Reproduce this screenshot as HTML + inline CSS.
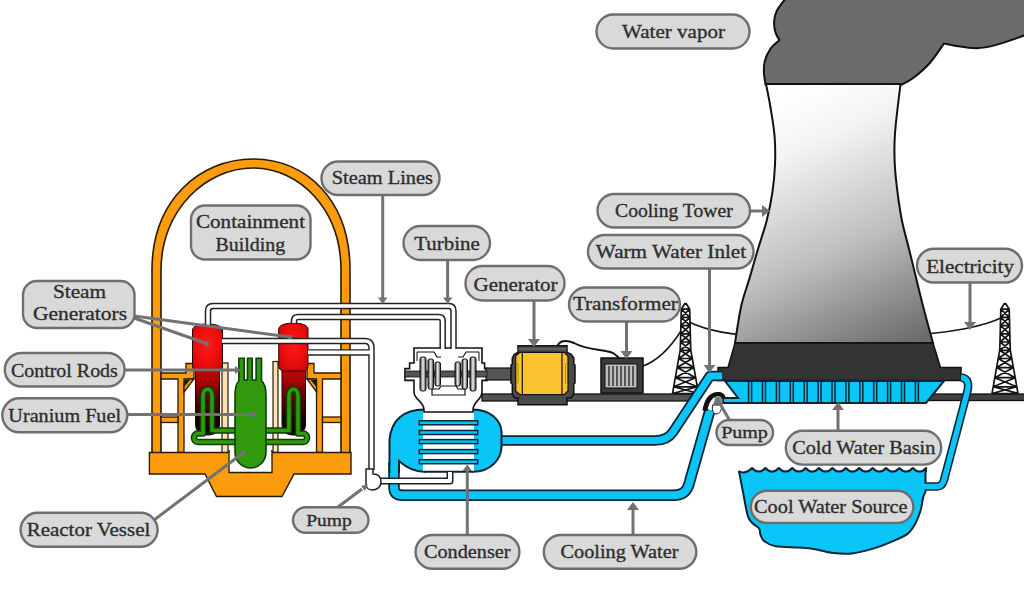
<!DOCTYPE html>
<html><head><meta charset="utf-8">
<style>
html,body{margin:0;padding:0;background:#fff;width:1024px;height:602px;overflow:hidden}
svg{display:block}
.lb rect{fill:#d9d9d9;stroke:#6e6e6e;stroke-width:2.4}
.lb text{font-family:"Liberation Serif",serif;fill:#2e2e2e;stroke:#2e2e2e;stroke-width:0.35;text-anchor:middle}
.ar{stroke:#727272;stroke-width:3;fill:none}
.ah{fill:#727272}
</style></head>
<body>
<svg width="1024" height="602" viewBox="0 0 1024 602">
<defs>
  <linearGradient id="tw" gradientUnits="userSpaceOnUse" x1="790" y1="90" x2="905" y2="345">
    <stop offset="0" stop-color="#ffffff"/>
    <stop offset="0.2" stop-color="#f4f4f4"/>
    <stop offset="0.6" stop-color="#bdbdbd"/>
    <stop offset="1" stop-color="#6c6c6c"/>
  </linearGradient>
  <radialGradient id="sgu" cx="0.5" cy="0.45" r="0.7">
    <stop offset="0" stop-color="#ff1a1a"/>
    <stop offset="0.6" stop-color="#ec0c0c"/>
    <stop offset="1" stop-color="#c00808"/>
  </radialGradient>
  <linearGradient id="sgl" x1="0" y1="0" x2="0" y2="1">
    <stop offset="0" stop-color="#d40a0a"/>
    <stop offset="0.25" stop-color="#a80505"/>
    <stop offset="0.5" stop-color="#5c0202"/>
    <stop offset="0.75" stop-color="#220000"/>
    <stop offset="1" stop-color="#0a0000"/>
  </linearGradient>
  <linearGradient id="disc" x1="0" y1="0" x2="1" y2="0">
    <stop offset="0" stop-color="#333"/>
    <stop offset="0.5" stop-color="#f0f0f0"/>
    <stop offset="1" stop-color="#333"/>
  </linearGradient>
</defs>

<!-- wires (behind tower) -->
<path d="M643,366 C660,360 672,345 681,331" fill="none" stroke="#151515" stroke-width="1.5"/>
<path d="M689,322 C710,332 735,336 770,336" fill="none" stroke="#151515" stroke-width="1.5"/>
<path d="M900,335 C950,334 985,326 1003,317" fill="none" stroke="#151515" stroke-width="1.5"/>
<path d="M557,347 C559,341 565,339 574,343 C588,351 605,349 613,353 C616,355 618,357 619,358" fill="none" stroke="#151515" stroke-width="2"/>

<!-- ===== cloud & tower ===== -->
<path d="M786,-2 C784.5,0.1 778.8,6.8 776.8,10.7 C774.8,14.6 774.3,17.8 774.1,21.4 C773.9,25.0 774.5,29.0 775.4,32.1 C776.3,35.2 778.7,38.8 779.4,40.1 C777.8,41.7 772.5,45.9 770.0,49.5 C767.5,53.1 765.7,57.7 764.7,61.5 C763.7,65.3 763.8,68.5 763.9,72.3 C764.0,76.1 765.2,82.3 765.5,84.3 L900.8,85 C902.9,83.8 908.4,81.7 913.2,78.0 C918.0,74.3 924.7,68.8 929.8,63.0 C934.9,57.2 941.6,46.8 944.0,43.5 C945.8,43.9 949.3,44.9 954.7,45.7 C960.1,46.5 969.4,48.3 976.3,48.2 C983.2,48.1 988.0,47.1 996.3,44.9 C1004.6,42.7 1021.0,36.6 1026.0,35.0 L1026,-2 Z" fill="#6b6b6b" stroke="#111" stroke-width="2"/>
<path d="M766,84 L900.5,84 C900.0,88.0 898.6,99.2 897.6,108.0 C896.6,116.8 895.3,127.0 894.8,136.5 C894.3,145.9 894.3,155.3 894.8,164.7 C895.3,174.1 896.4,183.6 897.6,193.0 C898.8,202.4 900.1,211.7 902.0,221.0 C903.9,230.3 906.7,239.6 909.0,249.0 C911.3,258.4 913.7,268.1 916.0,277.6 C918.3,287.1 920.2,295.1 923.0,306.0 C925.8,316.9 931.3,336.8 933.0,343.0 L735,343 C736.0,336.8 738.8,316.9 741.2,306.0 C743.7,295.1 746.9,287.1 749.7,277.6 C752.5,268.1 755.2,258.4 758.0,249.0 C760.8,239.6 764.2,230.3 766.6,221.0 C769.0,211.7 770.9,202.4 772.3,193.0 C773.7,183.6 774.6,174.1 775.0,164.7 C775.4,155.3 775.3,145.9 774.6,136.5 C773.9,127.0 772.0,116.8 770.6,108.0 C769.2,99.2 766.8,88.0 766.0,84.0 Z" fill="url(#tw)" stroke="#111" stroke-width="2"/>
<path d="M735,343 L933,343 L940.5,367.5 L961,367.5 L961,380.4 L718,380.4 L718,367.5 L728,367.5 Z" fill="#333" stroke="#111" stroke-width="1.5" stroke-linejoin="miter"/>


<!-- ground lines -->
<rect x="482" y="394" width="214" height="7" fill="#525252" stroke="#111" stroke-width="1.3"/>
<rect x="929" y="394" width="100" height="6.5" fill="#404040" stroke="#111" stroke-width="1.3"/>

<!-- basin -->
<path d="M725,381 L944,381 L926,403 L723,403 L723,398 L738,398 Z" fill="#0ac6f8" stroke="#0b2533" stroke-width="2"/>
<g stroke="#0b2533" stroke-width="1.5"><line x1="748.6" y1="381" x2="748.6" y2="403"/><line x1="751.6" y1="381" x2="751.6" y2="403"/><line x1="762.5" y1="381" x2="762.5" y2="403"/><line x1="765.5" y1="381" x2="765.5" y2="403"/><line x1="776.4" y1="381" x2="776.4" y2="403"/><line x1="779.4" y1="381" x2="779.4" y2="403"/><line x1="790.3" y1="381" x2="790.3" y2="403"/><line x1="793.3" y1="381" x2="793.3" y2="403"/><line x1="804.2" y1="381" x2="804.2" y2="403"/><line x1="807.2" y1="381" x2="807.2" y2="403"/><line x1="818.1" y1="381" x2="818.1" y2="403"/><line x1="821.1" y1="381" x2="821.1" y2="403"/><line x1="832.0" y1="381" x2="832.0" y2="403"/><line x1="835.0" y1="381" x2="835.0" y2="403"/><line x1="845.9" y1="381" x2="845.9" y2="403"/><line x1="848.9" y1="381" x2="848.9" y2="403"/><line x1="859.8" y1="381" x2="859.8" y2="403"/><line x1="862.8" y1="381" x2="862.8" y2="403"/><line x1="873.7" y1="381" x2="873.7" y2="403"/><line x1="876.7" y1="381" x2="876.7" y2="403"/><line x1="887.6" y1="381" x2="887.6" y2="403"/><line x1="890.6" y1="381" x2="890.6" y2="403"/><line x1="901.5" y1="381" x2="901.5" y2="403"/><line x1="904.5" y1="381" x2="904.5" y2="403"/><line x1="915.4" y1="381" x2="915.4" y2="403"/><line x1="918.4" y1="381" x2="918.4" y2="403"/></g>

<!-- pipe pond -> basin -->
<path d="M922,486.5 L937,486.5 C941,486.5 943,484 944,480 L967,393 C969.5,384 968,378 961,377.5" fill="none" stroke="#0b2533" stroke-width="8.5" stroke-linejoin="round"/>
<!-- pond -->
<path d="M739,471.4 Q745.5,474.5 752,468 Q758.7,475.2 765.4,468 Q772.1,475.2 778.8,468 Q785.5,475.2 792.2,468 Q798.9,475.2 805.6,468 Q812.3,475.2 819.0,468 Q825.7,475.2 832.4,468 Q839.1,475.2 845.8,468 Q852.5,475.2 859.2,468 Q865.9,475.2 872.6,468 Q879.3,475.2 886.0,468 Q892.7,475.2 899.4,468 Q906.1,475.2 912.8,468 Q919.5,475.2 926.2,468 Q925.8,474 925.5,471.4 L925.5,481.5 L925.5,491.7 C925.1,492.8 923.8,494.9 923.0,498.1 C922.2,501.3 921.8,506.6 920.5,510.8 C919.2,515.0 917.5,519.7 915.4,523.5 C913.3,527.3 911.6,530.6 907.8,533.6 C904.0,536.6 898.4,538.8 892.5,541.3 C886.6,543.8 879.0,546.9 872.2,548.9 C865.4,550.9 858.7,552.8 851.9,553.4 C845.1,554.0 838.0,553.5 831.6,552.7 C825.2,552.0 819.3,549.8 813.8,548.9 C808.3,548.0 805.0,548.0 798.6,547.6 C792.2,547.2 781.4,547.3 775.7,546.3 C770.0,545.2 766.8,543.2 764.3,541.3 C761.8,539.4 761.4,537.0 760.5,534.9 C759.6,532.8 760.5,530.5 759.2,528.6 C757.9,526.7 754.8,525.6 752.9,523.5 C751.0,521.4 749.5,521.4 747.8,515.9 C746.1,510.4 744.2,497.9 742.7,490.5 C741.2,483.1 739.6,474.6 739.0,471.4 Z" fill="#0ac6f8" stroke="#0b2533" stroke-width="2" stroke-linejoin="round"/>
<path d="M921,486.5 L937,486.5 C941,486.5 943,484 944,480 L967,393 C969.5,384 968,378 961,377.5" fill="none" stroke="#0ac6f8" stroke-width="5.3" stroke-linejoin="round"/>
<!-- ===== pylons ===== -->
<path d="M685.2,303.0 L681.3,309.2 L681.1,317.4 L680.9,325.6 L680.7,333.8 L680.5,342.0 L680.2,350.3 L678.7,358.5 L677.1,367.6 L675.3,377.7 L673.7,386.8 L672.5,393.5 M685.8,303.0 L689.7,309.2 L689.9,317.4 L690.1,325.6 L690.3,333.8 L690.5,342.0 L690.8,350.3 L692.3,358.5 L693.9,367.6 L695.7,377.7 L697.3,386.8 L698.5,393.5 M681.3,309.2 L689.7,309.2 M681.1,317.4 L689.9,317.4 M681.3,309.2 L689.9,317.4 M689.7,309.2 L681.1,317.4 M680.9,325.6 L690.1,325.6 M681.1,317.4 L690.1,325.6 M689.9,317.4 L680.9,325.6 M680.7,333.8 L690.3,333.8 M680.9,325.6 L690.3,333.8 M690.1,325.6 L680.7,333.8 M680.5,342.0 L690.5,342.0 M680.7,333.8 L690.5,342.0 M690.3,333.8 L680.5,342.0 M680.2,350.3 L690.8,350.3 M680.5,342.0 L690.8,350.3 M690.5,342.0 L680.2,350.3 M678.7,358.5 L692.3,358.5 M680.2,350.3 L692.3,358.5 M690.8,350.3 L678.7,358.5 M677.1,367.6 L693.9,367.6 M678.7,358.5 L693.9,367.6 M692.3,358.5 L677.1,367.6 M675.3,377.7 L695.7,377.7 M677.1,367.6 L695.7,377.7 M693.9,367.6 L675.3,377.7 M673.7,386.8 L697.3,386.8 M675.3,377.7 L697.3,386.8 M695.7,377.7 L673.7,386.8 M672.5,393.5 L698.5,393.5 M673.7,386.8 L698.5,393.5 M697.3,386.8 L672.5,393.5" fill="none" stroke="#151515" stroke-width="1.7" stroke-linejoin="round"/>
<path d="M1004.7,303.0 L1000.8,309.2 L1000.6,317.4 L1000.4,325.6 L1000.2,333.8 L1000.0,342.0 L999.7,350.3 L998.2,358.5 L996.6,367.6 L994.8,377.7 L993.2,386.8 L992.0,393.5 M1005.3,303.0 L1009.2,309.2 L1009.4,317.4 L1009.6,325.6 L1009.8,333.8 L1010.0,342.0 L1010.3,350.3 L1011.8,358.5 L1013.4,367.6 L1015.2,377.7 L1016.8,386.8 L1018.0,393.5 M1000.8,309.2 L1009.2,309.2 M1000.6,317.4 L1009.4,317.4 M1000.8,309.2 L1009.4,317.4 M1009.2,309.2 L1000.6,317.4 M1000.4,325.6 L1009.6,325.6 M1000.6,317.4 L1009.6,325.6 M1009.4,317.4 L1000.4,325.6 M1000.2,333.8 L1009.8,333.8 M1000.4,325.6 L1009.8,333.8 M1009.6,325.6 L1000.2,333.8 M1000.0,342.0 L1010.0,342.0 M1000.2,333.8 L1010.0,342.0 M1009.8,333.8 L1000.0,342.0 M999.7,350.3 L1010.3,350.3 M1000.0,342.0 L1010.3,350.3 M1010.0,342.0 L999.7,350.3 M998.2,358.5 L1011.8,358.5 M999.7,350.3 L1011.8,358.5 M1010.3,350.3 L998.2,358.5 M996.6,367.6 L1013.4,367.6 M998.2,358.5 L1013.4,367.6 M1011.8,358.5 L996.6,367.6 M994.8,377.7 L1015.2,377.7 M996.6,367.6 L1015.2,377.7 M1013.4,367.6 L994.8,377.7 M993.2,386.8 L1016.8,386.8 M994.8,377.7 L1016.8,386.8 M1015.2,377.7 L993.2,386.8 M992.0,393.5 L1018.0,393.5 M993.2,386.8 L1018.0,393.5 M1016.8,386.8 L992.0,393.5" fill="none" stroke="#151515" stroke-width="1.7" stroke-linejoin="round"/>

<!-- transformer -->
<rect x="601" y="358" width="42" height="35" fill="#3a3a3a" stroke="#111" stroke-width="1.5"/>
<rect x="605" y="364" width="32" height="24" fill="#bdbdbd" stroke="#111" stroke-width="1"/>
<g stroke="#333" stroke-width="1.5">
  <line x1="609" y1="366" x2="609" y2="386"/><line x1="613" y1="366" x2="613" y2="386"/><line x1="617" y1="366" x2="617" y2="386"/><line x1="621" y1="366" x2="621" y2="386"/><line x1="625" y1="366" x2="625" y2="386"/><line x1="629" y1="366" x2="629" y2="386"/><line x1="633" y1="366" x2="633" y2="386"/>
</g>

<!-- ===== blue pipes to tower ===== -->
<path d="M498,440.5 L655,440.5 C664,440.5 669,438 673,432 L710,376 L722,376" fill="none" stroke="#0b2533" stroke-width="10.5" stroke-linejoin="round"/>
<path d="M496,440.5 L655,440.5 C664,440.5 669,438 673,432 L710,376 L722,376" fill="none" stroke="#0ac6f8" stroke-width="7" stroke-linejoin="round"/>
<path d="M394,462 L394,487 C394,493 397,495.3 403,495.3 L674,495.3 C683,495.3 687,491 689,484 L710,410" fill="none" stroke="#0b2533" stroke-width="11.5" stroke-linejoin="round"/>
<path d="M394,462 L394,487 C394,493 397,495.3 403,495.3 L674,495.3 C683,495.3 687,491 689,484 L710,410" fill="none" stroke="#0ac6f8" stroke-width="8" stroke-linejoin="round"/>

<!-- pump right -->
<path d="M714.5,397 L722.5,397 L722.5,405 L714.5,405 Z" fill="#8a8a8a"/>
<path d="M712.5,405 L721.5,405 C722,410 720,414 716,414 C713,414 712,410 712.5,405 Z" fill="#fff" stroke="#111" stroke-width="1"/>
<path d="M702.5,410.5 C704,400 709,392 718,392 C722,392 725,394 725.5,397 L722.5,399 C721,396.5 719,396 716.5,396.5 C712,397.5 708.5,403 707.5,411 Z" fill="#111"/>
<!-- ===== condenser ===== -->
<path d="M424,409.5 C404,409.5 391,420 389.5,440 L389.5,472 L399,472 L399,461 C407,468 415,471.7 424,471.7 Z" fill="#0ac6f8" stroke="#0b2533" stroke-width="2"/>
<path d="M473,409.5 C490,409.5 501,420 501.5,432 L501.5,447 C501,460 490,471.7 473,471.7 Z" fill="#0ac6f8" stroke="#0b2533" stroke-width="2"/>
<rect x="423" y="410.5" width="51" height="60.5" fill="#fff"/>
<g fill="#0ac6f8" stroke="#0b2533" stroke-width="1.5">
  <rect x="419.3" y="420.8" width="58.4" height="4"/>
  <rect x="419.3" y="430.5" width="58.4" height="4"/>
  <rect x="419.3" y="439.6" width="58.4" height="4"/>
  <rect x="419.3" y="449.6" width="58.4" height="4"/>
  <rect x="419.3" y="459.7" width="58.4" height="4"/>
</g>
<path d="M424,471.7 L473,471.7" stroke="#0b2533" stroke-width="2"/>
<rect x="390.6" y="466" width="7.4" height="12" fill="#0ac6f8"/>
<!-- turbine casing -->
<path d="M414,348 L482,348 L482,363 L484.6,363 L484.6,368.6 L487.3,368.6 L487.3,380.4 L482,380.4 L482,392 C482,400 473,401 473,410 L473,412 L424,412 L424,410 C424,401 414,400 414,392 L414,380.4 L405,380.4 L405,368.6 L409.6,368.6 L409.6,363 L414,363 Z" fill="#fff" stroke="#111" stroke-width="1.6"/>
<path d="M417,352 L434,352 L437,357 L441,357 M458,357 L463,357 L466,352 L479,352" fill="none" stroke="#111" stroke-width="1.2"/>
<path d="M417,352 L417,361 M479,352 L479,361" fill="none" stroke="#111" stroke-width="1"/>
<path d="M432,389 L432,395 L465,395 L465,389 L458,389 L456,386 L441,386 L439,389 Z" fill="#fff" stroke="#111" stroke-width="1.2"/>
<rect x="486" y="368" width="27" height="12" fill="#555" stroke="#111" stroke-width="1.2"/>
<rect x="405" y="371" width="82" height="6" fill="#555" stroke="#111" stroke-width="0.8"/>
<g stroke="#111" stroke-width="1">
  <rect x="420" y="357" width="6" height="34" rx="2" fill="url(#disc)"/>
  <rect x="428" y="359" width="5.5" height="30" rx="2" fill="url(#disc)"/>
  <rect x="435" y="362" width="5.5" height="24" rx="2" fill="url(#disc)"/>
  <rect x="455" y="362" width="5.5" height="24" rx="2" fill="url(#disc)"/>
  <rect x="462" y="359" width="5.5" height="30" rx="2" fill="url(#disc)"/>
  <rect x="470" y="357" width="6" height="34" rx="2" fill="url(#disc)"/>
</g>

<!-- generator -->
<path d="M518,345.7 L567,345.7 L567,352.4 L571,354 L573.8,358 L573.8,364 L575,365 L575,383 L573.8,384 L573.8,394 L571,398 L567,398 L567,404.7 L518,404.7 L518,398 L514.5,398 L512.3,394 L512.3,384 L511,383 L511,365 L512.3,364 L512.3,358 L514.5,354 L518,352.4 Z" fill="#4a4a4a" stroke="#111" stroke-width="1.5"/>
<line x1="518" y1="349" x2="567" y2="349" stroke="#777" stroke-width="1"/>
<path d="M520,352.4 L564,352.4 L568,356 L568,391 L564,394.7 L520,394.7 L515.7,391 L515.7,356 Z" fill="#f9c22e" stroke="#111" stroke-width="1.2"/>
<path d="M515.7,362 L518,364 L518,383 L515.7,385 M568,362 L565.5,364 L565.5,383 L568,385" fill="none" stroke="#b8860b" stroke-width="1"/>
<line x1="522.3" y1="352.4" x2="522.3" y2="394.7" stroke="#111" stroke-width="1.2"/>
<line x1="562" y1="352.4" x2="562" y2="394.7" stroke="#111" stroke-width="1.2"/>

<!-- ===== containment building ===== -->
<path d="M152,455 L152,270 C152,200 200,159 253,159 C306,159 350,200 350,270 L350,455 L341,455 L341,270 C341,210 300,168 253,168 C206,168 161,210 161,270 L161,455 Z" fill="#fa9c0e" stroke="#2a1a05" stroke-width="1.6"/>

<!-- interior structure: beams, windows -->
<g fill="#fa9c0e" stroke="#2a1a05" stroke-width="1.3">
  <!-- left -->
  <path d="M161,373 L186,373 L186,363.5 L194,363.5 L194,379 L188,379 L184,384 L184,452.5 L178,452.5 L178,379 L161,379 Z"/>
  <rect x="161" y="417" width="17" height="5.5"/>
  <path d="M184,379 L194,379 L184,392 Z"/>
  <!-- right -->
  <path d="M341,373 L314,373 L314,363.5 L307,363.5 L307,379 L313,379 L316.5,384 L316.5,452.5 L322.5,452.5 L322.5,379 L341,379 Z"/>
  <rect x="322.5" y="417" width="18.5" height="5.5"/>
  <path d="M316.5,379 L307,379 L316.5,392 Z"/>
</g>
<path d="M184,380 L190,380 L184,387 Z" fill="#1a1a1a"/>
<path d="M316.5,380 L310.5,380 L316.5,387 Z" fill="#1a1a1a"/>
<!-- cream strips -->
<rect x="222" y="363" width="6" height="90" fill="#fbe3b4" stroke="#2a1a05" stroke-width="1.2"/>
<rect x="273" y="361.5" width="5" height="91" fill="#fbe3b4" stroke="#2a1a05" stroke-width="1.2"/>

<!-- base -->
<path d="M149.4,452.5 L351,452.5 L351,474 L294,474 L282,496.5 L216.5,496.5 L205,474 L149.4,474 Z" fill="#fa9c0e" stroke="#2a1a05" stroke-width="1.4"/>
<path d="M229,451 L229,472.5 L272,472.5 L272,451 Z" fill="#fff" stroke="#2a1a05" stroke-width="1.3"/>
<rect x="230" y="449" width="41" height="6" fill="#fff"/>

<!-- steam generators -->
<path d="M195.5,362 L219.5,362 L219.5,424 C219.5,433 213,435 207.5,435 C202,435 195.5,433 195.5,424 Z" fill="url(#sgl)" stroke="#220000" stroke-width="1"/>
<path d="M192.5,330 C192.5,322 222.5,322 222.5,330 L222.5,366 C222.5,369 219.5,371 219.5,371 L195.5,371 C195.5,371 192.5,369 192.5,366 Z" fill="url(#sgu)" stroke="#300" stroke-width="1"/>
<path d="M282,362 L305.5,362 L305.5,424 C305.5,433 299,435 293.5,435 C288,435 282,433 282,424 Z" fill="url(#sgl)" stroke="#220000" stroke-width="1"/>
<path d="M278.7,329 C278.7,321 308,321 308,329 L308,366 C308,369 305.5,371 305.5,371 L282,371 C282,371 278.7,369 278.7,366 Z" fill="url(#sgu)" stroke="#300" stroke-width="1"/>

<!-- steam pipes (double lines) -->
<g fill="none" stroke-linejoin="round">
  <path d="M208,325 L208,311 Q208,306 213,306 L449,306 Q453.5,306 453.5,311 L453.5,349" stroke="#222" stroke-width="6.5"/>
  <path d="M208,325 L208,311 Q208,306 213,306 L449,306 Q453.5,306 453.5,311 L453.5,349" stroke="#fff" stroke-width="3.5"/>
  <path d="M294,323 L294,321 Q294,317 298,317 L438.5,317 Q442.7,317 442.7,321 L442.7,349" stroke="#222" stroke-width="6.5"/>
  <path d="M294,323 L294,321 Q294,317 298,317 L438.5,317 Q442.7,317 442.7,321 L442.7,349" stroke="#fff" stroke-width="3.5"/>
  <path d="M222,341 L365,341 C369.5,341 371.5,343.5 371.5,348 L371.5,470" stroke="#222" stroke-width="6.5"/>
  <path d="M308,352.4 L371.5,352.4" stroke="#222" stroke-width="6.5"/>
  <path d="M222,341 L365,341 C369.5,341 371.5,343.5 371.5,348 L371.5,470" stroke="#fff" stroke-width="3.6"/>
  <path d="M308,352.4 L371.5,352.4" stroke="#fff" stroke-width="3.6"/>
  <path d="M373,481 L450,481 L450,472" stroke="#222" stroke-width="7"/>
  <path d="M373,481 L450,481 L450,472" stroke="#fff" stroke-width="4"/>
</g>
<!-- pump left -->
<path d="M366,469 L373,469 L373,474 C379,474 381,478 381,482 C381,487 377,490 372,490 C368,490 366,487 366,484 Z" fill="#fff" stroke="#222" stroke-width="1.5"/>

<!-- green reactor & pipes -->
<g fill="none" stroke-linejoin="round" stroke-linecap="round">
  <path d="M236,442 L198,442 C192.5,442 192.5,433.5 198,433.5 L203,433.5 L203,396 C203,387 212,387 212,396 L212,430.5 L236,430.5" stroke="#0f3d0a" stroke-width="6.5"/>
  <path d="M236,442 L198,442 C192.5,442 192.5,433.5 198,433.5 L203,433.5 L203,396 C203,387 212,387 212,396 L212,430.5 L236,430.5" stroke="#30990c" stroke-width="3.6"/>
  <path d="M265,442 L303,442 C308.5,442 308.5,433.5 303,433.5 L298,433.5 L298,396 C298,387 289,387 289,396 L289,430.5 L265,430.5" stroke="#0f3d0a" stroke-width="6.5"/>
  <path d="M265,442 L303,442 C308.5,442 308.5,433.5 303,433.5 L298,433.5 L298,396 C298,387 289,387 289,396 L289,430.5 L265,430.5" stroke="#30990c" stroke-width="3.6"/>
</g>
<path d="M238.9,358.2 L244.2,358.2 L244.2,380 L247.5,380 L247.5,358.2 L252.2,358.2 L252.2,380 L256.1,380 L256.1,358.2 L261.5,358.2 L261.5,381 C264.5,383 266,388 266,396 L266,452 C266,462 258,468 250.5,468 C243,468 235,462 235,452 L235,396 C235,388 236.5,383 238.9,381 Z" fill="#30990c" stroke="#0f3d0a" stroke-width="1.6"/>

<!-- ===== label arrows ===== -->
<g class="ar">
  <line x1="382.7" y1="195" x2="382.7" y2="298"/>
  <line x1="447.6" y1="260" x2="447.6" y2="298"/>
  <line x1="534" y1="300" x2="534" y2="340"/>
  <line x1="626.5" y1="321" x2="626.5" y2="352"/>
  <line x1="750" y1="211" x2="763" y2="211"/>
  <line x1="709.5" y1="268" x2="709.5" y2="366"/>
  <line x1="970" y1="282" x2="970" y2="323"/>
  <line x1="838" y1="431" x2="838" y2="409"/>
  <line x1="730" y1="421" x2="719" y2="402"/>
  <line x1="467.3" y1="535" x2="467.3" y2="470"/>
  <line x1="633" y1="535" x2="633" y2="509"/>
  <line x1="338" y1="507" x2="362" y2="489"/>
  <line x1="154" y1="520" x2="243" y2="453"/>
  <line x1="124" y1="370" x2="236" y2="370"/>
  <line x1="127" y1="414.5" x2="253" y2="414.5"/>
  <line x1="134" y1="318" x2="205" y2="343"/>
  <line x1="134" y1="316" x2="290" y2="337"/>
</g>
<g class="ah">
  <path d="M378,297.5 L387.5,297.5 L382.7,304 Z"/>
  <path d="M443,297.5 L452.5,297.5 L447.6,304 Z"/>
  <path d="M528,339 L540,339 L534,347 Z"/>
  <path d="M620.5,351 L632.5,351 L626.5,359 Z"/>
  <path d="M762,205 L762,217 L770,211 Z"/>
  <path d="M703.5,365 L715.5,365 L709.5,373 Z"/>
  <path d="M964,322 L976,322 L970,330 Z"/>
  <path d="M832,410 L844,410 L838,402 Z"/>
  <path d="M627,510 L639,510 L633,502 Z"/>
  <path d="M462.5,471 L472,471 L467.3,464.5 Z"/>
  <path d="M235,366 L241,370 L235,374 Z"/>
  <circle cx="254" cy="414.5" r="2.8"/>
  <circle cx="243" cy="453" r="2.5"/>
  <path d="M361,486 L368,484 L365,491 Z"/>
  <path d="M713,404 L718,396 L721,405 Z"/>
  <circle cx="207" cy="344" r="2.3"/>
  <circle cx="290" cy="337" r="2.3"/>
</g>

<!-- ===== labels ===== -->
<g class="lb">
  <rect x="596.5" y="14.5" width="153" height="34" rx="17.0"/>
  <text x="673.5" y="38.2" textLength="103.0" lengthAdjust="spacingAndGlyphs" font-size="19">Water vapor</text>
  <rect x="321.5" y="161.5" width="118" height="33.5" rx="16.75"/>
  <text x="382.4" y="184.3" textLength="101.2" lengthAdjust="spacingAndGlyphs" font-size="19">Steam Lines</text>
  <rect x="191" y="205.5" width="119.5" height="54" rx="14"/>
  <text x="250.5" y="228.4" textLength="109.1" lengthAdjust="spacingAndGlyphs" font-size="19">Containment</text>
  <text x="250.3" y="251.4" textLength="69.8" lengthAdjust="spacingAndGlyphs" font-size="19">Building</text>
  <rect x="597.5" y="194" width="152.5" height="33.5" rx="16.75"/>
  <text x="673.9" y="217" textLength="117.6" lengthAdjust="spacingAndGlyphs" font-size="19">Cooling Tower</text>
  <rect x="403.5" y="226" width="86.5" height="34" rx="17.0"/>
  <text x="447" y="249.6" textLength="65.4" lengthAdjust="spacingAndGlyphs" font-size="19">Turbine</text>
  <rect x="588" y="235" width="165.5" height="33.5" rx="16.75"/>
  <text x="671" y="258.4" textLength="150.3" lengthAdjust="spacingAndGlyphs" font-size="19">Warm Water Inlet</text>
  <rect x="917" y="248.7" width="105" height="33.8" rx="16.9"/>
  <text x="970.1" y="272.5" textLength="87.8" lengthAdjust="spacingAndGlyphs" font-size="19">Electricity</text>
  <rect x="465.5" y="266" width="99" height="34.5" rx="17"/>
  <text x="515.5" y="290.5" textLength="84.1" lengthAdjust="spacingAndGlyphs" font-size="19">Generator</text>
  <rect x="23" y="281" width="111.5" height="47" rx="14"/>
  <text x="79.5" y="298.3" textLength="53.1" lengthAdjust="spacingAndGlyphs" font-size="19">Steam</text>
  <text x="80" y="320.2" textLength="94.2" lengthAdjust="spacingAndGlyphs" font-size="19">Generators</text>
  <rect x="569" y="287.5" width="111" height="34" rx="17.0"/>
  <text x="625.4" y="310" textLength="105.0" lengthAdjust="spacingAndGlyphs" font-size="19">Transformer</text>
  <rect x="4.8" y="353" width="119.8" height="33.5" rx="16.75"/>
  <text x="64.4" y="377" textLength="106.8" lengthAdjust="spacingAndGlyphs" font-size="19">Control Rods</text>
  <rect x="2.3" y="398.3" width="125" height="34" rx="17.0"/>
  <text x="64.7" y="421.6" textLength="112.7" lengthAdjust="spacingAndGlyphs" font-size="19">Uranium Fuel</text>
  <rect x="716.5" y="420" width="56.5" height="25" rx="12.5"/>
  <text x="744.5" y="437.9" textLength="46.7" lengthAdjust="spacingAndGlyphs" font-size="17">Pump</text>
  <rect x="785.8" y="430.8" width="155.4" height="33.8" rx="16.9"/>
  <text x="863.8" y="453.7" textLength="143.2" lengthAdjust="spacingAndGlyphs" font-size="19">Cold Water Basin</text>
  <rect x="750.8" y="490.8" width="162.5" height="32.2" rx="16.1"/>
  <text x="830.8" y="512.8" textLength="153.4" lengthAdjust="spacingAndGlyphs" font-size="19">Cool Water Source</text>
  <rect x="293" y="507.3" width="75.5" height="25.5" rx="12.75"/>
  <text x="329" y="525.6" textLength="45.5" lengthAdjust="spacingAndGlyphs" font-size="17">Pump</text>
  <rect x="20.6" y="512.8" width="137" height="34" rx="17.0"/>
  <text x="88.5" y="535.9" textLength="123.6" lengthAdjust="spacingAndGlyphs" font-size="19">Reactor Vessel</text>
  <rect x="415.6" y="535" width="103.8" height="33.8" rx="16.9"/>
  <text x="467.2" y="557.8" textLength="86.6" lengthAdjust="spacingAndGlyphs" font-size="19">Condenser</text>
  <rect x="543.8" y="535" width="152.5" height="33.8" rx="16.9"/>
  <text x="619.5" y="558.4" textLength="118.0" lengthAdjust="spacingAndGlyphs" font-size="19">Cooling Water</text>
</g>
</svg>
</body></html>
